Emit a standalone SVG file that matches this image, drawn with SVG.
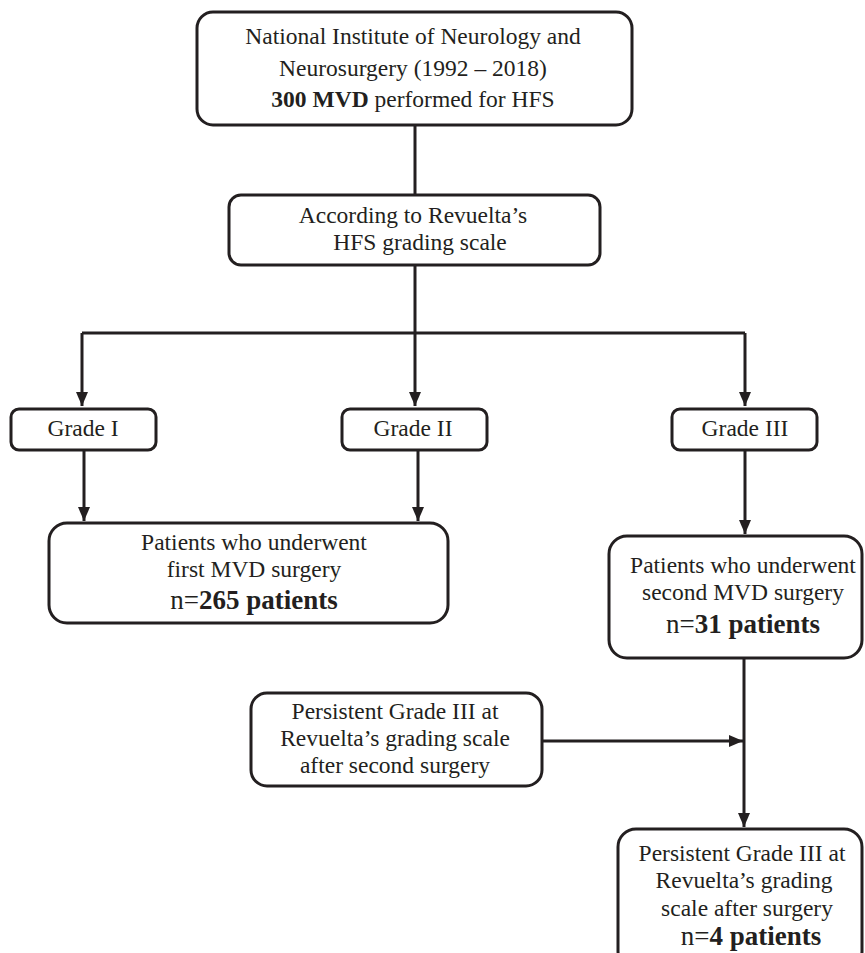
<svg xmlns="http://www.w3.org/2000/svg" width="865" height="953" viewBox="0 0 865 953">
<defs>
<marker id="ah" markerUnits="userSpaceOnUse" markerWidth="14" markerHeight="12" refX="14" refY="6" orient="auto">
<path d="M0,0 L14,6 L0,12 z" fill="#231f20"/>
</marker>
<style>
.box{fill:#fff;stroke:#231f20;stroke-width:3}
.t{font-family:"Liberation Serif","Times New Roman",serif;font-size:23.5px;fill:#231f20;text-anchor:middle}
.b{font-weight:bold}
.big{font-size:27px}
.ln{fill:none;stroke:#231f20;stroke-width:3}
.ar{fill:none;stroke:#231f20;stroke-width:3;marker-end:url(#ah)}
</style>
</defs>
<rect width="865" height="953" fill="#fff"/>
<g id="connectors">
<line class="ln" x1="415" y1="125" x2="415" y2="195"/>
<line class="ln" x1="415" y1="265" x2="415" y2="333"/>
<line class="ln" x1="82" y1="333" x2="745" y2="333"/>
<line class="ar" x1="82" y1="333" x2="82" y2="406"/>
<line class="ar" x1="415" y1="333" x2="415" y2="406"/>
<line class="ar" x1="745" y1="333" x2="745" y2="406"/>
<line class="ar" x1="84" y1="450" x2="84" y2="521"/>
<line class="ar" x1="418" y1="450" x2="418" y2="521"/>
<line class="ar" x1="745" y1="450" x2="745" y2="534"/>
<line class="ar" x1="744" y1="658" x2="744" y2="827"/>
<line class="ar" x1="542" y1="741" x2="743" y2="741"/>
</g>
<g id="n_top">
<rect class="box" x="197" y="12" width="435" height="113" rx="16"/>
<text class="t" x="413" y="44">National Institute of Neurology and</text>
<text class="t" x="413" y="76">Neurosurgery (1992 – 2018)</text>
<text class="t" x="413" y="107"><tspan class="b">300 MVD</tspan> performed for HFS</text>
</g>
<g id="n_scale">
<rect class="box" x="229" y="195" width="371" height="70" rx="12"/>
<text class="t" x="413" y="223">According to Revuelta’s</text>
<text class="t" x="420" y="250">HFS grading scale</text>
</g>
<g id="n_g1">
<rect class="box" x="11" y="409" width="145" height="41" rx="8"/>
<text class="t" x="83" y="436">Grade I</text>
</g>
<g id="n_g2">
<rect class="box" x="342" y="409" width="145" height="41" rx="8"/>
<text class="t" x="413" y="436">Grade II</text>
</g>
<g id="n_g3">
<rect class="box" x="672" y="409" width="145" height="41" rx="8"/>
<text class="t" x="745" y="436">Grade III</text>
</g>
<g id="n_first">
<rect class="box" x="49" y="523" width="399" height="100" rx="18"/>
<text class="t" x="254" y="550">Patients who underwent</text>
<text class="t" x="254" y="577">first MVD surgery</text>
<text class="t big" x="254" y="609">n=<tspan class="b">265 patients</tspan></text>
</g>
<g id="n_second">
<rect class="box" x="609" y="536" width="253" height="122" rx="18"/>
<text class="t" x="743" y="573">Patients who underwent</text>
<text class="t" x="743" y="600">second MVD surgery</text>
<text class="t big" x="743" y="633">n=<tspan class="b">31 patients</tspan></text>
</g>
<g id="n_persist_left">
<rect class="box" x="251" y="693" width="291" height="93" rx="16"/>
<text class="t" x="395" y="719">Persistent Grade III at</text>
<text class="t" x="395" y="746">Revuelta’s grading scale</text>
<text class="t" x="395" y="773">after second surgery</text>
</g>
<g id="n_persist_final">
<rect class="box" x="618" y="829" width="244" height="140" rx="18"/>
<text class="t" x="742" y="861">Persistent Grade III at</text>
<text class="t" x="744" y="888">Revuelta’s grading</text>
<text class="t" x="747" y="916">scale after surgery</text>
<text class="t big" x="751" y="945">n=<tspan class="b">4 patients</tspan></text>
</g>
</svg>
